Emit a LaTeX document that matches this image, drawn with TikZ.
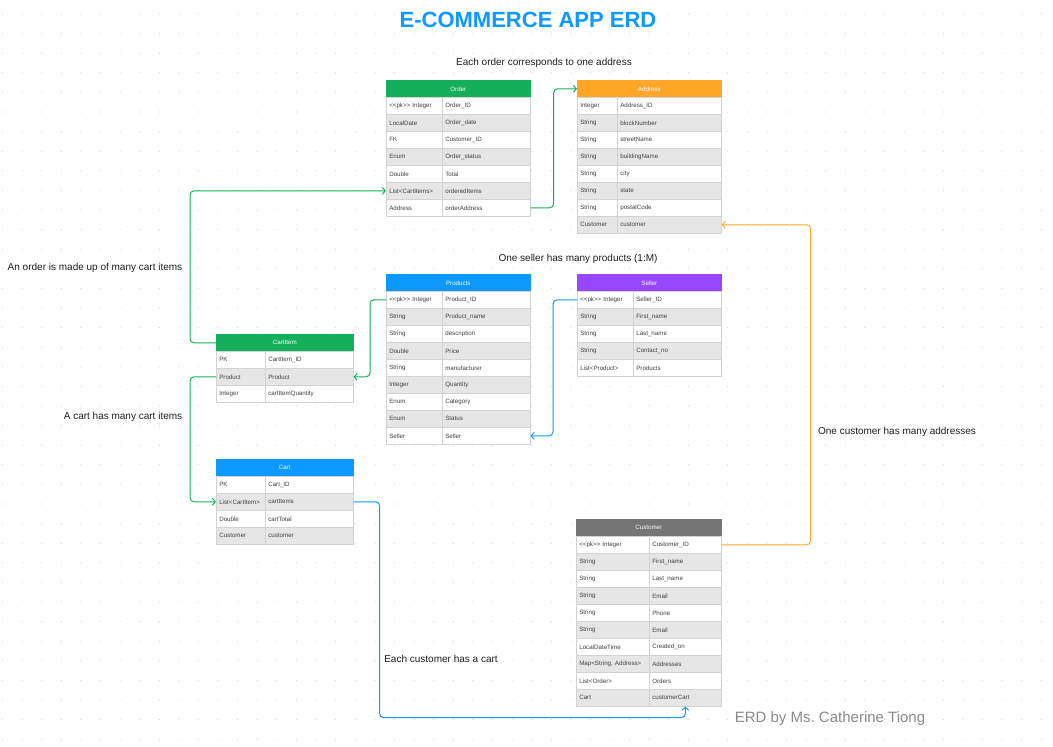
\documentclass[tikz,border=0pt]{standalone}
\usepackage{fontspec}
\setmainfont{Liberation Sans}
\usetikzlibrary{arrows.meta}
\definecolor{erdgreen}{HTML}{14AE5C}
\definecolor{erdblue}{HTML}{0D99FF}
\definecolor{erdorange}{HTML}{FFA629}
\definecolor{erdpurple}{HTML}{9747FF}
\definecolor{erdgray}{HTML}{757575}
\definecolor{rowgray}{HTML}{E6E6E6}
\definecolor{linegray}{HTML}{D2D2D2}
\definecolor{txtcol}{HTML}{1E1E1E}
\definecolor{dotcol}{HTML}{D6D6D6}
\tikzset{
  cellbox/.style={draw=linegray, line width=.6pt, font=\fontsize{6.2}{7}\selectfont, text=txtcol!85, minimum height=17pt, inner xsep=3pt, inner ysep=0pt, align=left, anchor=north west},
  hdrbox/.style={line width=.6pt, font=\fontsize{6.2}{7}\selectfont, text=white, minimum height=17pt, inner sep=0pt, anchor=north west},
  conn/.style={line width=1pt, rounded corners=4pt, -{Straight Barb[length=3pt,width=7pt]}},
  note/.style={font=\fontsize{10}{12}\selectfont, text=txtcol},
}
\newcommand{\erdtable}[8]{%
  \pgfmathsetmacro\hw{#4+#5}\pgfmathsetmacro\tw{#4-6}\pgfmathsetmacro\nw{#5-6}%
  \node[hdrbox, fill=#6, draw=#6, minimum width=\hw pt] (#1-h) at (#2,#3) {#7};
  \foreach \t/\n [count=\i] in {#8} {
    \ifodd\i \def\rf{white}\else\def\rf{rowgray}\fi
    \node[cellbox, fill=\rf, text width=\tw pt] (#1-\i) at (#2,#3+17*\i) {\t};
    \node[cellbox, fill=\rf, text width=\nw pt] (#1-\i-n) at (#2+#4,#3+17*\i) {\n};
  }%
}
\begin{document}
\begin{tikzpicture}[x=1pt,y=-1pt]
  \useasboundingbox[fill=white] (0,0) rectangle (1053,747);
  \foreach \i in {0,...,53} \foreach \j in {0,...,37} \fill[dotcol] (2.5+19.6*\i,14+19.6*\j) circle (.6);
  \node[font=\bfseries\fontsize{22}{26}\selectfont, text=erdblue] (title) at (528,20) {E-COMMERCE APP ERD};
  \erdtable{order}{386}{80}{56}{88}{erdgreen}{Order}{<{}<pk>{}> Integer/Order\_ID, LocalDate/Order\_date, FK/Customer\_ID, Enum/Order\_status, Double/Total, List<CartItems>/orderedItems, Address/orderAddress}
  \erdtable{address}{577}{80}{40}{104}{erdorange}{Address}{Integer/Address\_ID, String/blockNumber, String/streetName, String/buildingName, String/city, String/state, String/postalCode, Customer/customer}
  \erdtable{products}{386}{274}{56}{88}{erdblue}{Products}{<{}<pk>{}> Integer/Product\_ID, String/Product\_name, String/description, Double/Price, String/manufacturer, Integer/Quantity, Enum/Category, Enum/Status, Seller/Seller}
  \erdtable{seller}{577}{274}{56}{88}{erdpurple}{Seller}{<{}<pk>{}> Integer/Seller\_ID, String/First\_name, String/Last\_name, String/Contact\_no, List<Product>/Products}
  \erdtable{cartitem}{216}{334}{49}{88}{erdgreen}{CartItem}{PK/CartItem\_ID, Product/Product, Integer/cartItemQuantity}
  \erdtable{cart}{216}{459}{49}{88}{erdblue}{Cart}{PK/Cart\_ID, List<CartItem>/cartItems, Double/cartTotal, Customer/customer}
  \erdtable{customer}{576}{519}{73}{72}{erdgray}{Customer}{<{}<pk>{}> Integer/Customer\_ID, String/First\_name, String/Last\_name, String/Email, String/Phone, String/Email, LocalDateTime/Created\_on, {Map<String, Address>}/Addresses, List<Order>/Orders, Cart/customerCart}
  \draw[conn, erdgreen] (cartitem-h.west) -- ++(-26,0) |- (order-6.west);
  \draw[conn, erdgreen] (order-7-n.east) -- ++(23,0) |- (address-h.west);
  \draw[conn, erdgreen] (products-1.west) -- ++(-16,0) |- (cartitem-2-n.east);
  \draw[conn, erdgreen] (cartitem-2.west) -- ++(-26,0) |- (cart-2.west);
  \draw[conn, erdblue] (seller-1.west) -- ++(-24,0) |- (products-9-n.east);
  \draw[conn, erdblue] (cart-2-n.east) -- ++(26,0) |- ([yshift=-11pt]customer-10-n.south) -- (customer-10-n.south);
  \draw[conn, erdorange] (customer-1-n.east) -- ++(89,0) |- (address-8-n.east);
  \node[note] (n-addr) at (544,63) {Each order corresponds to one address};
  \node[note] (n-seller) at (578,259) {One seller has many products (1:M)};
  \node[note] (n-order) at (95,268) {An order is made up of many cart items};
  \node[note] (n-cart) at (123,417) {A cart has many cart items};
  \node[note] (n-cust) at (897,432) {One customer has many addresses};
  \node[note] (n-custcart) at (441,659) {Each customer has a cart};
  \node[font=\fontsize{15}{18}\selectfont, text=erdgray!85] (credit) at (830,719) {ERD by Ms.\ Catherine Tiong};
\end{tikzpicture}
\end{document}
